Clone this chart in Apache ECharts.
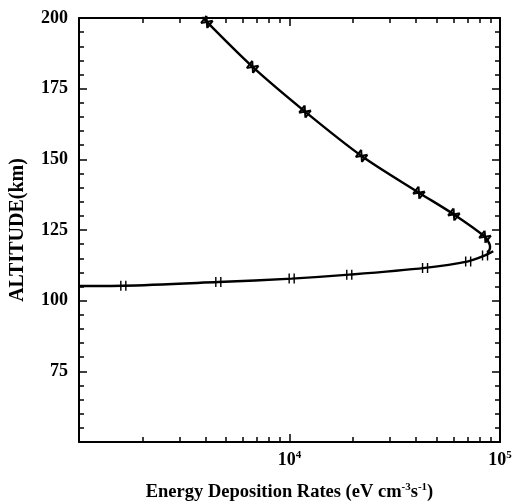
<!DOCTYPE html>
<html>
<head>
<meta charset="utf-8">
<script src="https://cdn.jsdelivr.net/npm/echarts@6/dist/echarts.min.js"></script>
<style>
  html, body { margin: 0; padding: 0; background: #fff; }
  #chart { width: 516px; height: 502px; }
</style>
</head>
<body>
<div id="chart"></div>
<script>
// Energy deposition rate (eV cm^-3 s^-1) against altitude (km)
// Upper branch: from the top of the frame down to the peak near 120 km
const upperRate = [3850, 4050, 6680, 11850, 22000, 41200, 60400, 84900, 88900, 89700, 88900, 87200];
const upperAlt  = [200.6, 198.6, 182.7, 166.9, 151.2, 138.2, 130.5, 122.6, 120.2, 119.0, 117.8, 117.0];
const upperMark = [false, true, true, true, true, true, true, true, false, false, false, false];

// Lower branch: from the left edge up to the peak
const lowerRate = [1000, 1624, 4590, 10240, 19230, 44050, 70600, 84900, 89700, 92900];
const lowerAlt  = [105.2, 105.3, 106.6, 107.8, 109.2, 111.6, 113.9, 116.0, 116.9, 117.5];
const lowerMark = [false, true, true, true, true, true, true, true, false, false];

// Axis ticks and labels
const rateLabels = [10000, 100000];
const rateMajorTicks = [10000, 100000];
const rateMinorTicks = [2000, 3000, 4000, 5000, 6000, 7000, 8000, 9000,
                        20000, 30000, 40000, 50000, 60000, 70000, 80000, 90000];
const altMin = 50, altMax = 200, altStep = 25;

const serif = '"Liberation Serif", "DejaVu Serif", serif';
const ink = '#000';

function branchData(xs, ys, marks) {
  return xs.map((x, i) => marks[i] ? [x, ys[i]] : { value: [x, ys[i]], symbol: 'none' });
}

function rateAxis(position, major, withLine, withLabel) {
  return {
    type: 'log', logBase: 10, min: 1000, max: 100000, position: position,
    gridIndex: 0,
    axisLine: { show: withLine, lineStyle: { color: ink, width: 2 } },
    axisTick: {
      show: true, inside: true, length: major ? 8 : 5,
      customValues: major ? rateMajorTicks : rateMinorTicks,
      lineStyle: { color: ink, width: 1.5 }
    },
    axisLabel: withLabel ? {
      show: true, margin: 8,
      customValues: rateLabels,
      formatter: v => '{b|10}{s|' + Math.round(Math.log10(v)) + '}',
      rich: {
        b: { fontFamily: serif, fontSize: 18, fontWeight: 'bold', color: ink },
        s: { fontFamily: serif, fontSize: 11, fontWeight: 'bold', color: ink, verticalAlign: 'top', padding: [0, 0, 9, 0] }
      }
    } : { show: false },
    splitLine: { show: false },
    name: withLabel ? 'Energy Deposition Rates (eV cm{s|-3}s{s|-1})' : '',
    nameLocation: 'middle', nameGap: 40,
    nameTextStyle: {
      fontFamily: serif, fontSize: 18.5, fontWeight: 'bold', color: ink,
      rich: {
        s: { fontFamily: serif, fontSize: 11, fontWeight: 'bold', color: ink, verticalAlign: 'top', padding: [0, 0, 9, 0] }
      }
    }
  };
}

function altAxis(position, withLabel) {
  return {
    type: 'value', min: altMin, max: altMax, interval: altStep, position: position,
    gridIndex: 0,
    axisLine: { show: true, lineStyle: { color: ink, width: 2 } },
    axisTick: { show: true, inside: true, length: 8, lineStyle: { color: ink, width: 1.5 } },
    minorTick: { show: true, splitNumber: 5, length: 5, lineStyle: { color: ink, width: 1.5 } },
    axisLabel: withLabel ? {
      show: true, showMinLabel: false, margin: 11,
      formatter: v => (v === altMin ? '' : String(v)),
      fontFamily: serif, fontSize: 18, fontWeight: 'bold', color: ink
    } : { show: false },
    splitLine: { show: false },
    minorSplitLine: { show: false },
    name: withLabel ? 'ALTITUDE(km)' : '',
    nameLocation: 'middle', nameGap: 51,
    nameTextStyle: { fontFamily: serif, fontSize: 20, fontWeight: 'bold', color: ink }
  };
}

const chart = echarts.init(document.getElementById('chart'), null, { renderer: 'canvas' });
chart.setOption({
  backgroundColor: '#fff',
  animation: false,
  grid: { left: 79, right: 16, top: 18, bottom: 60, containLabel: false, outerBoundsMode: 'none' },
  xAxis: [
    rateAxis('bottom', true, true, true),
    rateAxis('bottom', false, false, false),
    rateAxis('top', true, true, false),
    rateAxis('top', false, false, false)
  ],
  yAxis: [
    altAxis('left', true),
    altAxis('right', false)
  ],
  series: [
    {
      type: 'line', xAxisIndex: 0, yAxisIndex: 0,
      data: branchData(upperRate, upperAlt, upperMark),
      smooth: 0.3, clip: true, showAllSymbol: true,
      symbol: 'path://M0,0L0,10M0,0L10,10M10,0L0,10M10,0L10,10',
      symbolSize: [8, 9], symbolRotate: -38,
      lineStyle: { color: ink, width: 2.4 },
      itemStyle: { color: 'transparent', borderColor: ink, borderWidth: 2 }
    },
    {
      type: 'line', xAxisIndex: 0, yAxisIndex: 0,
      data: branchData(lowerRate, lowerAlt, lowerMark),
      smooth: 0.3, clip: true, showAllSymbol: true,
      symbol: 'path://M0,0L0,10M4,0L4,10',
      symbolSize: [5, 10],
      lineStyle: { color: ink, width: 2.4 },
      itemStyle: { color: 'transparent', borderColor: ink, borderWidth: 2 }
    }
  ]
});
</script>
</body>
</html>
